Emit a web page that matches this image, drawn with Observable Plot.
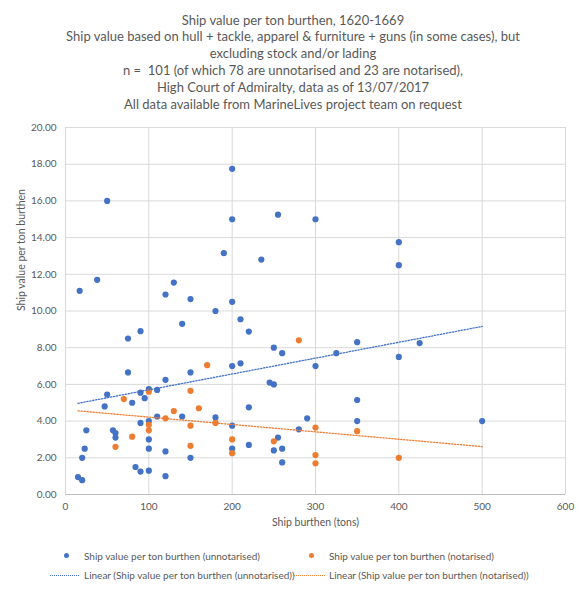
<!DOCTYPE html>
<html>
<head>
<meta charset="utf-8">
<script src="https://cdn.jsdelivr.net/npm/d3@7"></script>
<script src="https://cdn.jsdelivr.net/npm/@observablehq/plot@0.6"></script>
<style>
  html, body { margin: 0; padding: 0; background: #fff; }
  body { width: 586px; height: 599px; position: relative; overflow: hidden; font-family: Lato, "Open Sans", sans-serif; color: #595959; }
  #title { position: absolute; top: 11.6px; left: 0; width: 586px; text-align: center; font-size: 13px; line-height: 16.8px; }
  #chart { position: absolute; top: 115px; left: 0; }
  .leg { position: absolute; font-size: 10px; white-space: nowrap; line-height: 12px; }
  .ldot { position: absolute; width: 5px; height: 5px; border-radius: 50%; }
  .lline { position: absolute; height: 0; border-top: 1.5px dotted; }
</style>
</head>
<body>
<div id="title">
  Ship value per ton burthen, 1620-1669<br>
  Ship value based on hull + tackle, apparel &amp; furniture + guns (in some cases), but<br>
  excluding stock and/or lading<br>
  n =&nbsp; 101 (of which 78 are unnotarised and 23 are notarised),<br>
  High Court of Admiralty, data as of 13/07/2017<br>
  All data available from MarineLives project team on request
</div>
<div id="chart"></div>

<div class="ldot" style="left:63.5px; top:553px; background:#4472C4"></div>
<div class="leg" style="left:84px; top:549.7px">Ship value per ton burthen (unnotarised)</div>
<div class="ldot" style="left:308.5px; top:553px; background:#ED7D31"></div>
<div class="leg" style="left:329px; top:549.7px">Ship value per ton burthen (notarised)</div>
<div class="lline" style="left:50px; width:29px; top:574.5px; border-color:#4472C4"></div>
<div class="leg" style="left:84px; top:569px">Linear (Ship value per ton burthen (unnotarised))</div>
<div class="lline" style="left:294px; width:31px; top:574.5px; border-color:#ED7D31"></div>
<div class="leg" style="left:329px; top:569px">Linear (Ship value per ton burthen (notarised))</div>

<script>
// Unnotarised ships: burthen (tons) and value per ton
const unnotBurthen = [200, 50, 255, 200, 300, 190, 235, 400, 400, 17, 38, 120, 130, 150, 200, 180, 210, 220, 140, 75,
  90, 250, 350, 260, 325, 200, 210, 300, 150, 245, 250, 350, 220, 140, 180, 200, 290, 280, 350, 150,
  200, 220, 255, 250, 260, 260, 425, 400, 500, 75, 120, 50, 90, 100, 110, 95, 80, 47, 110, 100,
  90, 25, 57, 60, 60, 100, 23, 100, 120, 20, 84, 90, 100, 120, 15, 20];
const unnotValue = [17.75, 16.0, 15.25, 15.0, 15.0, 13.15, 12.8, 13.75, 12.5, 11.1, 11.7, 10.9, 11.55, 10.65, 10.5, 10.0, 9.55, 8.88, 9.3, 8.5,
  8.9, 8.0, 8.3, 7.7, 7.7, 7.0, 7.15, 7.0, 6.65, 6.1, 6.0, 5.15, 4.75, 4.25, 4.2, 3.75, 4.15, 3.55, 4.0, 2.0,
  2.5, 2.7, 3.1, 2.4, 2.5, 1.75, 8.25, 7.5, 4.0, 6.65, 6.25, 5.45, 5.55, 5.75, 5.7, 5.25, 5.0, 4.8, 4.25, 4.0,
  3.9, 3.5, 3.5, 3.35, 3.1, 3.0, 2.5, 2.5, 2.35, 2.0, 1.5, 1.25, 1.3, 1.0, 0.95, 0.78];

// Notarised ships
const notBurthen = [280, 170, 150, 160, 150, 180, 300, 350, 150, 200, 200, 250, 300, 300, 400, 100, 70, 130, 120, 100, 100, 80, 60];
const notValue = [8.4, 7.05, 5.65, 4.7, 3.75, 3.9, 3.65, 3.45, 2.65, 3.0, 2.25, 2.9, 2.15, 1.7, 2.0, 5.6, 5.2, 4.55, 4.15, 3.8, 3.5, 3.15, 2.6];

// Linear trendlines (end points)
const trendBurthen = [15, 500];
const trendUnnot = [4.97, 9.16];
const trendNot = [4.56, 2.61];

// Axis ticks
const xTicks = [0, 100, 200, 300, 400, 500, 600];
const yTicks = [0, 2, 4, 6, 8, 10, 12, 14, 16, 18, 20];

const unnot = unnotBurthen.map((b, i) => ({x: b, y: unnotValue[i]}));
const not = notBurthen.map((b, i) => ({x: b, y: notValue[i]}));
const tUn = trendBurthen.map((b, i) => ({x: b, y: trendUnnot[i]}));
const tNo = trendBurthen.map((b, i) => ({x: b, y: trendNot[i]}));

const blue = "#4472C4", orange = "#ED7D31";

const chart = Plot.plot({
  width: 586,
  height: 420,
  marginTop: 12,
  marginLeft: 65,
  marginRight: 21,
  marginBottom: 41,
  style: {fontFamily: "Lato, 'Open Sans', sans-serif", fontSize: "10px", color: "#595959", background: "white", overflow: "visible"},
  x: {domain: [0, 600]},
  y: {domain: [0, 20]},
  marks: [
    Plot.gridX(xTicks, {stroke: "#d9d9d9", strokeOpacity: 1}),
    Plot.gridY(yTicks, {stroke: "#d9d9d9", strokeOpacity: 1}),
    Plot.ruleY([0], {stroke: "#bfbfbf"}),
    Plot.axisX(xTicks, {tickSize: 0, tickPadding: 8, label: null, fill: "#595959"}),
    Plot.axisY(yTicks, {tickSize: 0, tickPadding: 9, tickFormat: d3.format(".2f"), label: null, fill: "#595959"}),
    Plot.dot(unnot, {x: "x", y: "y", r: 3.1, fill: blue}),
    Plot.dot(not, {x: "x", y: "y", r: 3.1, fill: orange}),
    Plot.line(tUn, {x: "x", y: "y", stroke: blue, strokeWidth: 1.3, strokeDasharray: "1.3,1.7"}),
    Plot.line(tNo, {x: "x", y: "y", stroke: orange, strokeWidth: 1.3, strokeDasharray: "1.3,1.7"}),
    Plot.text(["Ship burthen (tons)"], {frameAnchor: "bottom", dy: 31, fontSize: 10.5, fill: "#595959"}),
    Plot.text(["Ship value per ton burthen"], {frameAnchor: "left", rotate: -90, dx: -44, fontSize: 10.5, fill: "#595959"})
  ]
});
document.getElementById("chart").appendChild(chart);
</script>
</body>
</html>
